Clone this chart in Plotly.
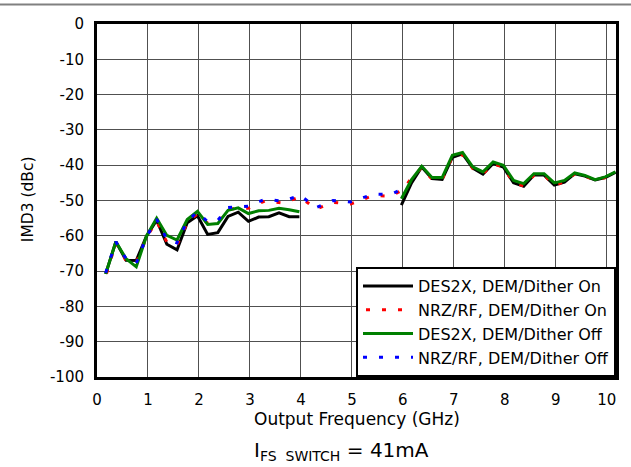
import plotly.graph_objects as go

# ---- data ----
x_lo = [0.17, 0.37, 0.57, 0.77, 0.97, 1.17, 1.37, 1.57, 1.77, 1.97,
        2.17, 2.37, 2.57, 2.77, 2.97, 3.17, 3.37, 3.57, 3.77, 3.97]
x_hi = [5.97, 6.17, 6.37, 6.57, 6.77, 6.97, 7.17, 7.37, 7.57, 7.77, 7.97,
        8.17, 8.37, 8.57, 8.77, 8.97, 9.17, 9.37, 9.57, 9.77, 9.97, 10.17]

des2x_on_lo = [-70.8, -61.7, -66.9, -67.0, -60.1, -55.6, -62.4, -64.0, -56.3, -54.3,
               -59.6, -59.1, -54.5, -53.3, -55.9, -54.7, -54.6, -53.5, -54.6, -54.6]
des2x_on_hi = [-51.3, -45.0, -40.5, -43.8, -44.0, -37.8, -36.8, -40.8, -42.5, -39.5, -40.5,
               -45.0, -46.0, -42.8, -42.8, -45.6, -44.8, -42.4, -43.1, -44.2, -43.5, -42.0]

des2x_off_lo = [-70.8, -61.7, -66.5, -68.8, -60.1, -55.0, -59.9, -61.2, -55.4, -53.1,
                -56.8, -56.5, -52.8, -52.1, -53.7, -52.9, -52.8, -52.2, -52.6, -53.2]
des2x_off_hi = [-49.5, -44.1, -40.3, -43.5, -43.5, -37.2, -36.4, -40.5, -41.9, -39.1, -40.0,
                -44.3, -45.2, -42.4, -42.4, -45.0, -44.3, -42.2, -42.9, -44.1, -43.3, -41.9]

x_nrz_lo = [0.17, 0.37, 0.57, 0.77, 0.97, 1.17, 1.37, 1.57, 1.77, 1.97,
            2.17, 2.37, 2.57, 2.77, 2.97, 3.30, 3.65, 3.98, 4.30, 4.63, 4.97, 5.42, 5.76, 6.02]
nrz_on_lo = [-71.5, -62.0, -67.0, -67.5, -60.5, -55.8, -61.8, -62.6, -56.3, -53.8,
             -56.5, -56.2, -52.5, -52.2, -52.2, -50.1, -50.7, -49.0, -52.4, -50.5, -51.0, -48.6, -48.8, -46.8]
nrz_off_lo = [-70.5, -61.7, -66.5, -67.8, -60.3, -55.3, -61.0, -62.0, -55.8, -53.3,
              -56.0, -55.6, -52.0, -51.8, -51.6, -49.6, -50.2, -48.5, -52.0, -50.0, -50.4, -48.2, -48.3, -46.5]
nrz_on_hi = [-43.5, -40.7, -43.9, -44.0, -37.6, -37.0, -40.9, -42.4, -39.6, -40.6,
             -44.9, -45.9, -42.9, -42.8, -45.7, -44.7, -42.5, -43.1, -44.2, -43.5, -42.1]

x_ticks = list(range(0, 11))
y_ticks = list(range(-100, 1, 10))

FONT = "DejaVu Sans, Verdana, sans-serif"

x_black = x_lo + [None] + x_hi
y_black = des2x_on_lo + [None] + des2x_on_hi
y_green = des2x_off_lo + [None] + des2x_off_hi
x_red = x_nrz_lo + x_hi[1:]
y_red = nrz_on_lo + nrz_on_hi

fig = go.Figure()
fig.add_trace(go.Scatter(x=x_black, y=y_black, mode="lines", name="DES2X, DEM/Dither On",
                         line=dict(color="black", width=3), connectgaps=False, legendrank=1))
fig.add_trace(go.Scatter(x=x_red, y=y_red, mode="lines", name="NRZ/RF, DEM/Dither On",
                         line=dict(color="red", width=3, dash="0px,3px,4px,9px"), legendrank=2))
fig.add_trace(go.Scatter(x=x_black, y=y_green, mode="lines", name="DES2X, DEM/Dither Off",
                         line=dict(color="green", width=3), connectgaps=False, legendrank=3))
fig.add_trace(go.Scatter(x=x_nrz_lo, y=nrz_off_lo, mode="lines", name="NRZ/RF, DEM/Dither Off",
                         line=dict(color="blue", width=3, dash="4px,12px"), legendrank=4))

axis_common = dict(showline=True, linewidth=3, linecolor="black", mirror=True,
                   showgrid=True, gridcolor="#505050", gridwidth=1, zeroline=False,
                   ticks="", tickfont=dict(family=FONT, size=15, color="black"))

fig.update_xaxes(range=[0, 10.18], tickvals=x_ticks, ticktext=[str(v) for v in x_ticks],
                 ticklabelstandoff=7, **axis_common)
fig.update_yaxes(range=[-100, 0], tickvals=y_ticks, ticktext=[str(v) for v in y_ticks],
                 ticklabelstandoff=7, **axis_common)

fig.update_layout(
    width=631, height=467,
    margin=dict(l=97, r=13, t=24, b=90),
    paper_bgcolor="white", plot_bgcolor="white",
    font=dict(family=FONT, color="black"),
    showlegend=True,
    legend=dict(x=1, xanchor="right", y=0, yanchor="bottom",
                bgcolor="white", bordercolor="black", borderwidth=2,
                font=dict(family=FONT, size=16, color="black"),
                tracegroupgap=0, itemwidth=50),
    shapes=[dict(type="line", xref="paper", yref="paper", x0=-0.2, x1=1.1,
                 y0=1.055, y1=1.055, line=dict(color="#808080", width=2))],
    annotations=[
        dict(text="Output Frequency (GHz)", xref="paper", yref="paper", x=0.5, y=-0.12,
             showarrow=False, font=dict(family=FONT, size=17, color="black"),
             xanchor="center", yanchor="middle"),
        dict(text="IMD3 (dBc)", xref="paper", yref="paper", x=-0.134, y=0.505,
             showarrow=False, textangle=-90, font=dict(family=FONT, size=15.5, color="black"),
             xanchor="center", yanchor="middle"),
        dict(text="I<sub>FS  SWITCH</sub> = 41mA", xref="paper", yref="paper", x=0.472, y=-0.21,
             showarrow=False, font=dict(family=FONT, size=20, color="black"),
             xanchor="center", yanchor="middle"),
    ],
)

fig.write_html("out.html", post_script="document.body.style.margin='0';",
               config={"displayModeBar": False})
